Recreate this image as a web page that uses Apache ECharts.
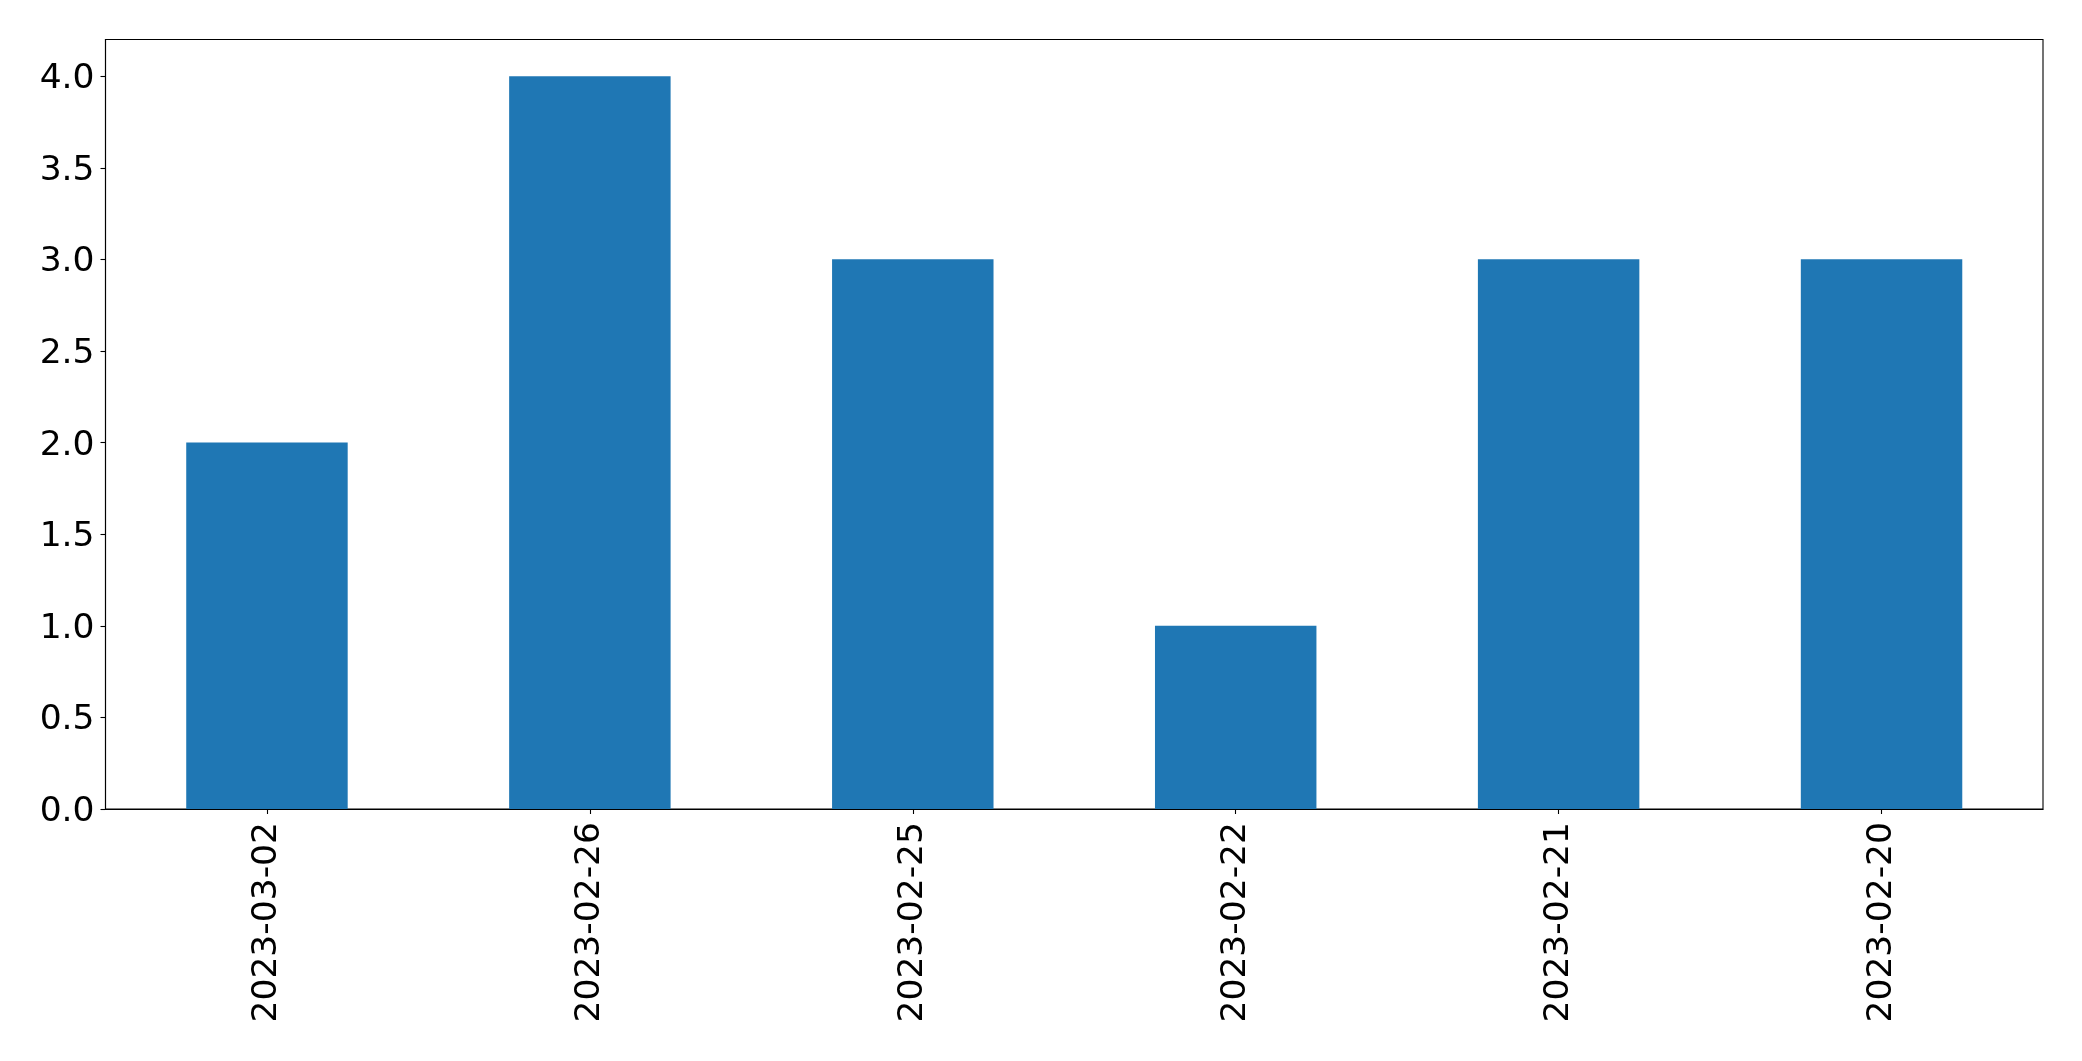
<!DOCTYPE html>
<html>
<head>
<meta charset="utf-8">
<script src="https://cdn.jsdelivr.net/npm/echarts@6/dist/echarts.min.js"></script>
<style>
html,body{margin:0;padding:0;background:#fff;}
#c{width:2082px;height:1061px;}
</style>
</head>
<body>
<div id="c"></div>
<script>
const categories = ["2023-03-02","2023-02-26","2023-02-25","2023-02-22","2023-02-21","2023-02-20"];
const values = [2, 4, 3, 1, 3, 3];
const yTicks = [0, 0.5, 1, 1.5, 2, 2.5, 3, 3.5, 4];

const chart = echarts.init(document.getElementById('c'), null, {renderer:'canvas'});
const font = 'DejaVu Sans';
chart.setOption({
  animation:false,
  backgroundColor:'#ffffff',
  grid:{left:105.5, right:39, top:39.5, bottom:252, show:true, borderColor:'#000', borderWidth:1.1, backgroundColor:'transparent'},
  xAxis:{
    type:'category', data:categories,
    boundaryGap:true,
    axisLine:{show:true, lineStyle:{color:'#000', width:1.1}},
    axisTick:{show:true, alignWithLabel:true, length:5, lineStyle:{color:'#000', width:1.1}},
    axisLabel:{rotate:90, fontFamily:font, fontSize:34.5, color:'#000', margin:13, interval:0}
  },
  yAxis:{
    type:'value', min:0, max:4.2, interval:0.5,
    splitLine:{show:false},
    axisLine:{show:true, lineStyle:{color:'#000', width:1.1}},
    axisTick:{show:true, length:5, lineStyle:{color:'#000', width:1.1}},
    axisLabel:{fontFamily:font, fontSize:34.5, color:'#000', margin:11,
      showMaxLabel:false,
      rich:{a:{fontFamily:font, fontSize:34.5, color:'#000', padding:[6,0,0,0]}},
      formatter:function(v){ return yTicks.indexOf(v) >= 0 ? '{a|' + v.toFixed(1) + '}' : ''; }}
  },
  series:[{
    type:'bar', data:values, barWidth:'50%',
    itemStyle:{color:'#1f77b4'}
  }]
});
</script>
</body>
</html>
